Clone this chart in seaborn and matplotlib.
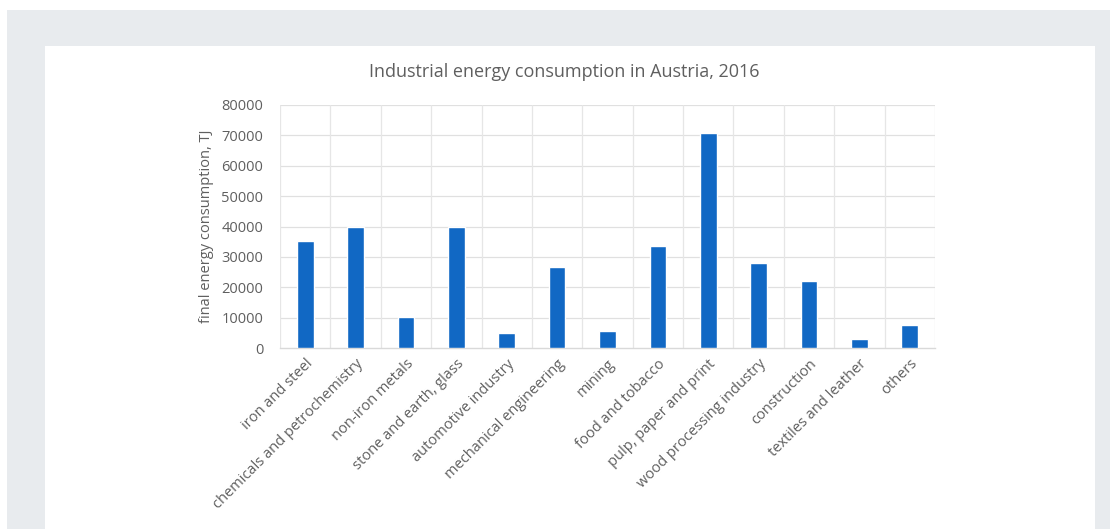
import matplotlib
matplotlib.use("Agg")
import matplotlib.pyplot as plt
from matplotlib.patches import Rectangle
import numpy as np
import pandas as pd
import seaborn as sns

sectors = [
    "iron and steel", "chemicals and petrochemistry", "non-iron metals",
    "stone and earth, glass", "automotive industry", "mechanical engineering",
    "mining", "food and tobacco", "pulp, paper and print",
    "wood processing industry", "construction", "textiles and leather", "others",
]
consumption_tj = [35300, 40000, 10200, 40000, 4800, 26800, 5500, 33500,
                  70800, 28000, 22200, 2800, 7600]
y_ticks = [0, 10000, 20000, 30000, 40000, 50000, 60000, 70000, 80000]

df = pd.DataFrame({"sector": sectors, "tj": consumption_tj})

sns.set_theme(style="white")
plt.rcParams["font.family"] = ["Open Sans", "DejaVu Sans"]

W, H = 1117, 529
fig = plt.figure(figsize=(W / 100, H / 100), dpi=100, facecolor="white")

# grey page frame with a white card on top
fig.patches.append(Rectangle((7 / W, 0), (1110 - 7) / W, (H - 10) / H,
                             transform=fig.transFigure, facecolor="#e8ebee",
                             edgecolor="none", zorder=-2))
fig.patches.append(Rectangle((45 / W, 0), (1095 - 45) / W, (H - 46) / H,
                             transform=fig.transFigure, facecolor="white",
                             edgecolor="none", zorder=-1))

ax = fig.add_axes([280 / W, (H - 348) / H, (935 - 280) / W, (348 - 105) / H])
ax.set_facecolor("none")

sns.barplot(data=df, x="sector", y="tj", color="#1168c4", width=0.33,
            saturation=1, ax=ax, zorder=3)

ax.set_ylim(0, 80000)
ax.set_xlim(-0.5, len(sectors) - 0.5)
ax.set_yticks(y_ticks)
ax.set_yticklabels([str(v) for v in y_ticks])

# gridlines: horizontal at ticks, vertical between categories
for v in y_ticks[1:]:
    ax.axhline(v, color="#e0e0e0", lw=0.9, zorder=1)
for b in np.arange(-0.5, len(sectors), 1.0):
    ax.axvline(b, color="#e6e6e6", lw=0.9, zorder=1)

for s in ["top", "right", "left"]:
    ax.spines[s].set_visible(False)
ax.spines["bottom"].set_color("#d9d9d9")
ax.spines["bottom"].set_linewidth(1.0)

text_col = "#5f5f5f"
ax.tick_params(axis="both", length=0, colors=text_col, labelsize=10.5)
ax.tick_params(axis="y", pad=12)
ax.set_xticks(range(len(sectors)))
ax.set_xticklabels(sectors, rotation=45, ha="right", rotation_mode="anchor",
                   color=text_col, fontsize=10.5)
ax.tick_params(axis="x", pad=6)

ax.set_xlabel("")
ax.set_ylabel("final energy consumption, TJ", color=text_col, fontsize=10.5,
              labelpad=5)

# chart title centred on the white card
fig.text(564 / W, 1 - 72 / H, "Industrial energy consumption in Austria, 2016",
         ha="center", va="center", color=text_col, fontsize=13)

fig.savefig("out.png", dpi=100, facecolor=fig.get_facecolor())
